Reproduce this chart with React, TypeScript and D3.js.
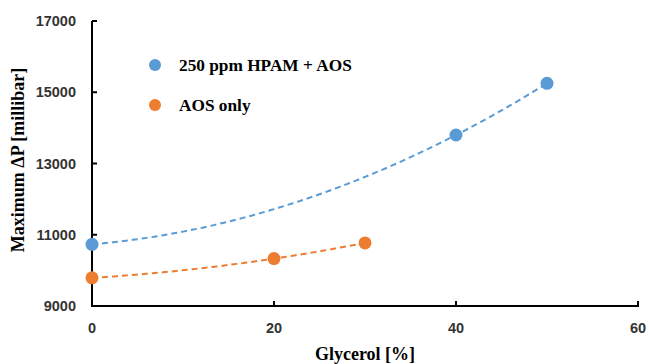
import React from "react";
import * as d3 from "d3";

const hpamX = [0, 40, 50];
const hpamY = [10730, 13800, 15250];
const aosX = [0, 20, 30];
const aosY = [9790, 10330, 10770];
const xTicks = [0, 20, 40, 60];
const yTicks = [9000, 11000, 13000, 15000, 17000];
const seriesNames = ["250 ppm HPAM + AOS", "AOS only"];
const colors = ["#5B9BD5", "#ED7D31"];

function polyFit2(xs: number[], ys: number[]) {
  // least squares quadratic fit (Excel polynomial trendline, order 2)
  const n = xs.length;
  let s0 = n, s1 = 0, s2 = 0, s3 = 0, s4 = 0, t0 = 0, t1 = 0, t2 = 0;
  for (let i = 0; i < n; i++) {
    const x = xs[i], y = ys[i];
    s1 += x; s2 += x * x; s3 += x ** 3; s4 += x ** 4;
    t0 += y; t1 += x * y; t2 += x * x * y;
  }
  const M = [
    [s0, s1, s2, t0],
    [s1, s2, s3, t1],
    [s2, s3, s4, t2],
  ];
  for (let i = 0; i < 3; i++) {
    let p = i;
    for (let r = i + 1; r < 3; r++) if (Math.abs(M[r][i]) > Math.abs(M[p][i])) p = r;
    [M[i], M[p]] = [M[p], M[i]];
    for (let r = 0; r < 3; r++) {
      if (r === i) continue;
      const f = M[r][i] / M[i][i];
      for (let c = i; c < 4; c++) M[r][c] -= f * M[i][c];
    }
  }
  const a = M[0][3] / M[0][0], b = M[1][3] / M[1][1], c = M[2][3] / M[2][2];
  return (x: number) => a + b * x + c * x * x;
}

export default function App() {
  const W = 649, H = 364;
  const x = d3.scaleLinear().domain([0, 60]).range([92, 638]);
  const y = d3.scaleLinear().domain([9000, 17000]).range([306, 21]);
  const series = [
    { xs: hpamX, ys: hpamY },
    { xs: aosX, ys: aosY },
  ];
  const line = d3
    .line<[number, number]>()
    .x((d) => x(d[0]))
    .y((d) => y(d[1]));
  const tickFont = "'Liberation Sans', Arial, sans-serif";
  const serif = "'Liberation Serif', 'Times New Roman', serif";
  return (
    <svg width={W} height={H} style={{ position: "absolute", left: 0, top: 0, background: "#fff" }}>
      {series.map((s, i) => {
        const f = polyFit2(s.xs, s.ys);
        const lo = d3.min(s.xs)!, hi = d3.max(s.xs)!;
        const pts: [number, number][] = d3.range(0, 101).map((k) => {
          const xv = lo + ((hi - lo) * k) / 100;
          return [xv, f(xv)];
        });
        return (
          <path key={"t" + i} d={line(pts)!} fill="none" stroke={colors[i]} strokeWidth={2} strokeDasharray="6,4" />
        );
      })}
      {/* axes */}
      <line x1={x(0)} x2={x(0)} y1={y(17000)} y2={y(9000)} stroke="#000" strokeWidth={2} />
      <line x1={x(0) - 1} x2={x(60) + 1} y1={y(9000)} y2={y(9000)} stroke="#000" strokeWidth={2} />
      {yTicks.map((t) => (
        <g key={"y" + t}>
          <line x1={x(0)} x2={x(0) + 5} y1={y(t)} y2={y(t)} stroke="#000" strokeWidth={2} />
          <text x={76} y={y(t)} dy="0.35em" textAnchor="end" fontFamily={tickFont} fontWeight="bold" fontSize={14.5} fill="#333">
            {t}
          </text>
        </g>
      ))}
      {xTicks.map((t) => (
        <g key={"x" + t}>
          <line x1={x(t)} x2={x(t)} y1={y(9000)} y2={y(9000) - 5} stroke="#000" strokeWidth={2} />
          <text x={x(t)} y={328} dy="0.35em" textAnchor="middle" fontFamily={tickFont} fontWeight="bold" fontSize={14.5} fill="#333">
            {t}
          </text>
        </g>
      ))}
      {series.map((s, i) =>
        s.xs.map((xv, j) => (
          <circle key={"p" + i + "-" + j} cx={x(xv)} cy={y(s.ys[j])} r={6.5} fill={colors[i]} />
        ))
      )}
      {/* legend */}
      {seriesNames.map((n, i) => (
        <g key={"l" + i} transform={`translate(155,${65 + i * 40})`}>
          <circle r={6} fill={colors[i]} />
          <text x={24} dy="0.35em" fontFamily={serif} fontWeight="bold" fontSize={17.3} fill="#000">
            {n}
          </text>
        </g>
      ))}
      <text x={365} y={354} dy="0.35em" textAnchor="middle" fontFamily={serif} fontWeight="bold" fontSize={18} fill="#000">
        Glycerol [%]
      </text>
      <text transform="translate(18,160) rotate(-90)" dy="0.35em" textAnchor="middle" fontFamily={serif} fontWeight="bold" fontSize={18} fill="#000">
        Maximum ΔP [millibar]
      </text>
    </svg>
  );
}
